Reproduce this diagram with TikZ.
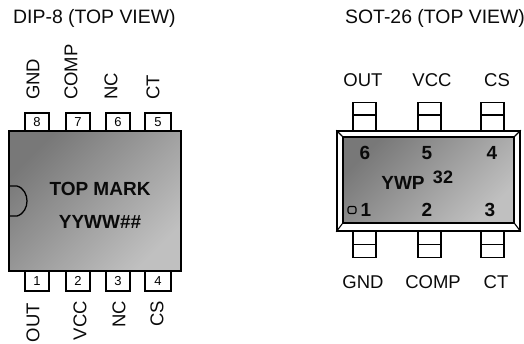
\documentclass[tikz,border=0pt]{standalone}
\usepackage{fontspec}
\setmainfont{Liberation Sans}
\usetikzlibrary{positioning}
\definecolor{bodydark}{RGB}{120, 120, 120}
\definecolor{bodylight}{RGB}{192, 192, 192}
\definecolor{textdark}{RGB}{10, 10, 10}
\newcommand{\pxfont}[1]{\fontsize{#1}{#1}\selectfont}

\begin{document}
\begin{tikzpicture}[
    x=1pt, y=-1pt,
    label18/.style={font=\pxfont{18.5}, color=textdark, inner sep=0pt},
    titletext/.style={font=\pxfont{19.4}, color=textdark, inner sep=0pt, anchor=west},
    markbold/.style={font=\pxfont{19}\bfseries, color=textdark, inner sep=0pt},
    pinnum/.style={rectangle, draw=black, fill=white, line width=1.3pt, font=\pxfont{13}, inner sep=0pt, minimum width=24pt, minimum height=18pt},
    pinsot/.style={rectangle, draw=black, fill=white, line width=1.3pt, inner sep=0pt, minimum width=23pt, minimum height=13pt},
    chip/.style={rectangle, draw=black, line width=1.5pt, inner sep=0pt, top color=bodydark, bottom color=bodylight, shading angle=45},
]
\useasboundingbox (0,0) rectangle (524,343);

% Titles
\node[titletext] (titledip) at (13,18) {DIP-8 (TOP VIEW)};
\node[titletext] (titlesot) at (345,18) {SOT-26 (TOP VIEW)};

% DIP-8 pins
\node[pinnum] (pin8) at (37,122) {8};
\node[pinnum] (pin7) at (78,122) {7};
\node[pinnum] (pin6) at (118,122) {6};
\node[pinnum, minimum width=26pt] (pin5) at (158,122) {5};
\node[pinnum, minimum height=20pt] (pin1) at (37,281) {1};
\node[pinnum, minimum height=20pt] (pin2) at (78,281) {2};
\node[pinnum, minimum height=20pt] (pin3) at (118,281) {3};
\node[pinnum, minimum height=20pt, minimum width=26pt] (pin4) at (158,281) {4};

% DIP-8 body
\node[chip, minimum width=172pt, minimum height=140pt] (dip) at (95,201) {};
\draw[line width=1.3pt] (9,186) -- (17,186) .. controls (24,188) and (27,195) .. (27,201) .. controls (27,207) and (24,214) .. (17,216) -- (9,216);
\node[markbold] (topmark) at (100,189) {TOP MARK};
\node[markbold] (yyww) at (100,222) {YYWW\#\#};

% DIP-8 labels
\node[label18, rotate=90, anchor=west] (lgnd) at (33,100) {GND};
\node[label18, rotate=90, anchor=west] (lcomp) at (71,100) {COMP};
\node[label18, rotate=90, anchor=west] (lnc) at (111,100) {NC};
\node[label18, rotate=90, anchor=west] (lct) at (153,100) {CT};
\node[label18, rotate=90, anchor=east] (lout) at (33,303) {OUT};
\node[label18, rotate=90, anchor=east] (lvcc) at (80,301) {VCC};
\node[label18, rotate=90, anchor=east] (lncb) at (119,301) {NC};
\node[label18, rotate=90, anchor=east] (lcs) at (157,301) {CS};

% SOT-26 pins
\foreach \px/\pname in {364.5/a, 429.5/b, 492.5/c} {
    \node[pinsot] (top\pname) at (\px,109) {};
    \node[pinsot, minimum height=16pt] (mid\pname) at (\px,123) {};
    \node[pinsot, minimum height=14pt] (low\pname) at (\px,238) {};
    \node[pinsot] (bot\pname) at (\px,251) {};
}

% SOT-26 body
\node[rectangle, draw=black, fill=white, line width=1.5pt, minimum width=183pt, minimum height=100pt, inner sep=0pt] (sotouter) at (428.5,181) {};
\node[chip, minimum width=171pt, minimum height=86pt] (sot) at (428.5,180) {};
\draw[line width=1.1pt] (sotouter.north west) -- (sot.north west);
\draw[line width=1.1pt] (sotouter.north east) -- (sot.north east);
\draw[line width=1.1pt] (sotouter.south west) -- (sot.south west);
\draw[line width=1.1pt] (sotouter.south east) -- (sot.south east);

% SOT-26 marks
\node[markbold] (n6) at (365,153) {6};
\node[markbold] (n5) at (427,153) {5};
\node[markbold] (n4) at (492,153) {4};
\node[markbold] (n1) at (366,210) {1};
\node[markbold] (n2) at (427,210) {2};
\node[markbold] (n3) at (490,210) {3};
\node[rectangle, rounded corners=2pt, draw=black, line width=1.1pt, minimum width=8pt, minimum height=7pt, inner sep=0pt] (dot) at (352,210) {};
\node[markbold] (ywp) at (403,183) {YWP};
\node[markbold, font=\pxfont{18}\bfseries] (n32) at (443,177) {32};

% SOT-26 labels
\node[label18] (sout) at (363,80) {OUT};
\node[label18] (svcc) at (432,80) {VCC};
\node[label18] (scs) at (497,80) {CS};
\node[label18] (sgnd) at (363,282) {GND};
\node[label18] (scomp) at (433,282) {COMP};
\node[label18] (sct) at (496,282) {CT};

\end{tikzpicture}
\end{document}
